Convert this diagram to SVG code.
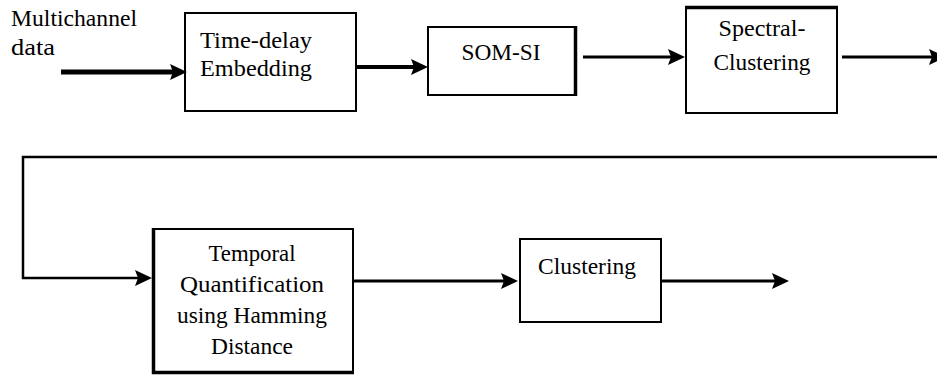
<svg xmlns="http://www.w3.org/2000/svg" width="937" height="376" viewBox="0 0 937 376">
<defs>
<style>
.box{fill:#fff;stroke:#000;stroke-width:2}
.edge{stroke:#000;stroke-width:3.5;fill:none}
text{font-family:"Liberation Serif","Times New Roman","DejaVu Serif",serif;font-size:23px;fill:#000}
.c{stroke:#000;fill:none;stroke-linecap:butt}
</style>
<marker id="ah" viewBox="0 0 17 16" refX="7" refY="8" markerWidth="17" markerHeight="16" markerUnits="userSpaceOnUse" orient="auto">
<path d="M0,0 L17,8 L0,16 L3,8 z" fill="#000"/>
</marker>
</defs>
<rect width="937" height="376" fill="#fff"/>

<g id="input-label" font-family="Liberation Serif, serif">
<text x="11" y="26" font-size="20" textLength="126" lengthAdjust="spacingAndGlyphs">Multichannel</text>
<text x="11" y="55" font-size="20" textLength="44" lengthAdjust="spacingAndGlyphs">data</text>
</g>

<g id="time-delay" font-family="Liberation Serif, serif">
<rect class="box" x="185" y="13" width="171" height="98"/>
<text x="200" y="48" textLength="112" lengthAdjust="spacingAndGlyphs">Time-delay</text>
<text x="200" y="76" textLength="112" lengthAdjust="spacingAndGlyphs">Embedding</text>
</g>

<g id="som-si" font-family="Liberation Serif, serif">
<rect class="box" x="428" y="27" width="148" height="68"/>
<line class="edge" x1="575.5" y1="26" x2="575.5" y2="96"/>
<text x="501" y="60" text-anchor="middle" textLength="79" lengthAdjust="spacingAndGlyphs" font-size="19">SOM-SI</text>
</g>

<g id="spectral" font-family="Liberation Serif, serif">
<rect class="box" x="686" y="7" width="151" height="106"/>
<line class="edge" x1="685" y1="7.5" x2="838" y2="7.5"/>
<text x="762" y="36" text-anchor="middle" textLength="87" lengthAdjust="spacingAndGlyphs">Spectral-</text>
<text x="762" y="70" text-anchor="middle" textLength="97" lengthAdjust="spacingAndGlyphs">Clustering</text>
</g>

<g id="temporal" font-family="Liberation Serif, serif">
<rect class="box" x="153" y="229" width="200" height="144"/>
<line class="edge" x1="153.5" y1="228" x2="153.5" y2="374"/>
<line class="edge" x1="152" y1="372.5" x2="354" y2="372.5"/>
<text x="252" y="261" text-anchor="middle" textLength="87" lengthAdjust="spacingAndGlyphs">Temporal</text>
<text x="252" y="292" text-anchor="middle" textLength="144" lengthAdjust="spacingAndGlyphs">Quantification</text>
<text x="252" y="323" text-anchor="middle" textLength="150" lengthAdjust="spacingAndGlyphs">using Hamming</text>
<text x="252" y="354" text-anchor="middle" textLength="82" lengthAdjust="spacingAndGlyphs">Distance</text>
</g>

<g id="clustering" font-family="Liberation Serif, serif">
<rect class="box" x="520" y="239" width="141" height="83"/>
<text x="587" y="274" text-anchor="middle" textLength="98" lengthAdjust="spacingAndGlyphs">Clustering</text>
</g>

<g id="connectors">
<line class="c" stroke-width="5" x1="61" y1="72" x2="177" y2="72" marker-end="url(#ah)"/>
<line class="c" stroke-width="4" x1="356" y1="67" x2="418" y2="67" marker-end="url(#ah)"/>
<line class="c" stroke-width="3" x1="583" y1="57" x2="675" y2="57" marker-end="url(#ah)"/>
<line class="c" stroke-width="3" x1="842" y1="57" x2="936" y2="57" marker-end="url(#ah)"/>
<polyline class="c" stroke-width="2.5" points="937,157 23,157 23,278 142,278" marker-end="url(#ah)"/>
<line class="c" stroke-width="3" x1="353" y1="281" x2="508" y2="281" marker-end="url(#ah)"/>
<line class="c" stroke-width="3" x1="661" y1="281" x2="779" y2="281" marker-end="url(#ah)"/>
</g>
</svg>
